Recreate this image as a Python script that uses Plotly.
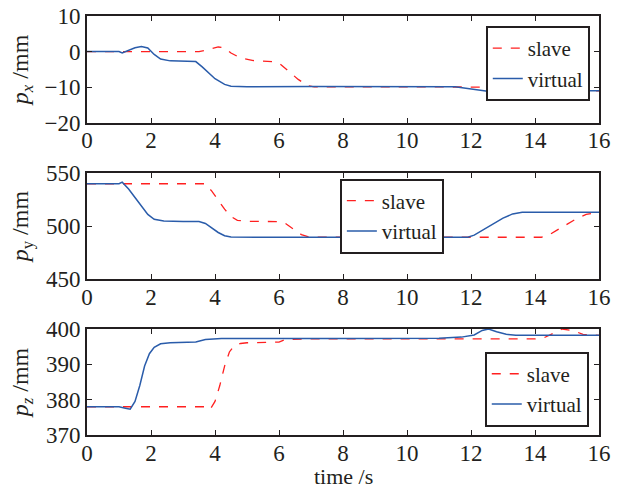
import plotly.graph_objects as go

# ---- data ----
# p_x
px_virtual_t = [0, 1.0, 1.1, 1.3, 1.5, 1.7, 1.9, 2.1, 2.3, 2.6, 3.0, 3.4, 3.6, 3.8, 4.0, 4.3, 4.5, 5.0, 7.0, 11.5, 12.0, 12.4, 12.8, 13.1, 13.4, 16.0]
px_virtual_v = [0, 0, -0.4, 0.3, 1.1, 1.4, 1.0, -0.8, -2.1, -2.6, -2.8, -2.8, -4.3, -6.0, -7.6, -9.2, -9.7, -9.9, -9.8, -9.9, -10.5, -11.0, -11.5, -11.3, -10.9, -11.0]
px_slave_t = [0, 3.5, 3.8, 4.1, 4.3, 4.5, 4.8, 5.2, 5.8, 6.0, 6.3, 6.6, 6.9, 7.1, 10.0, 14.0, 14.3, 14.6, 15.0, 15.4, 16.0]
px_slave_v = [0, 0, 0.6, 1.3, 1.1, -0.4, -1.8, -2.5, -2.8, -3.2, -5.5, -7.8, -9.6, -9.9, -9.9, -10.0, -10.5, -11.2, -11.6, -11.1, -11.0]

# p_y
py_virtual_t = [0, 1.0, 1.1, 1.3, 1.5, 1.7, 1.9, 2.1, 2.4, 3.0, 3.5, 3.7, 3.9, 4.1, 4.3, 4.5, 6.0, 11.9, 12.1, 12.4, 12.7, 13.0, 13.3, 13.6, 16.0]
py_virtual_v = [540, 540, 541.5, 535, 527, 519, 511, 506.5, 504.8, 504.3, 504.3, 502.5, 498, 494, 491, 489.7, 489.5, 489.5, 491.5, 497, 502.5, 507.5, 511.5, 513, 513]
py_slave_t = [0, 3.7, 3.9, 4.1, 4.3, 4.5, 4.7, 5.0, 6.0, 6.2, 6.5, 6.7, 6.9, 7.2, 14.2, 14.4, 14.7, 15.0, 15.3, 15.6, 15.9, 16.0]
py_slave_v = [540, 540, 533, 524, 516, 509, 505.5, 504.5, 504.3, 502.5, 496, 492, 490, 489.5, 489.5, 491, 496.5, 502, 507, 511, 513, 513]

# p_z
pz_virtual_t = [0, 1.0, 1.2, 1.35, 1.5, 1.65, 1.8, 1.95, 2.1, 2.3, 2.6, 3.0, 3.4, 3.7, 4.2, 8.0, 11.0, 11.7, 12.1, 12.35, 12.55, 12.8, 13.1, 13.4, 16.0]
pz_virtual_v = [378, 378, 377.6, 377.3, 379.5, 384, 389.5, 393, 394.8, 395.8, 396.1, 396.2, 396.3, 397.0, 397.3, 397.3, 397.4, 397.7, 398.3, 399.6, 400.0, 399.2, 398.5, 398.2, 398.2]
pz_slave_t = [0, 3.75, 3.85, 4.0, 4.15, 4.3, 4.45, 4.6, 4.8, 5.0, 6.0, 6.2, 7.0, 14.0, 14.3, 14.6, 14.85, 15.2, 15.5, 16.0]
pz_slave_v = [378, 378, 377.3, 379.5, 384, 389.5, 393.5, 395.3, 395.9, 396.1, 396.3, 397.0, 397.2, 397.2, 397.6, 398.8, 400.0, 399.5, 398.5, 398.2]

y_titles = ["<i>p</i><sub><i>x</i></sub> /mm", "<i>p</i><sub>y</sub> /mm", "<i>p</i><sub><i>z</i></sub> /mm"]
y_ranges = [[-20, 10], [450, 550], [370, 400]]
y_ticks = [[-20, -10, 0, 10], [450, 500, 550], [370, 380, 390, 400]]
y_ticktext = [["\u221220", "\u221210", "0", "10"], ["450", "500", "550"], ["370", "380", "390", "400"]]
x_ticks = [0, 2, 4, 6, 8, 10, 12, 14, 16]
x_title = "time /s"

RED = "#ff2020"
BLUE = "#2a5caa"
INK = "#231f20"
FONT = "Liberation Serif"

fig = go.Figure()

series = [
    (px_slave_t, px_slave_v, px_virtual_t, px_virtual_v),
    (py_slave_t, py_slave_v, py_virtual_t, py_virtual_v),
    (pz_slave_t, pz_slave_v, pz_virtual_t, pz_virtual_v),
]
domains = [[0.745, 1.0], [0.372, 0.625], [0.0, 0.253]]
legend_xy = [(0.982, 0.976, "top"), (0.697, 0.612, "top"), (0.98, 0.02, "bottom")]

for i, (st, sv, vt, vv) in enumerate(series):
    n = "" if i == 0 else str(i + 1)
    lg = "legend" if i == 0 else f"legend{i+1}"
    fig.add_trace(go.Scatter(x=st, y=sv, mode="lines", name="slave",
                             line=dict(color=RED, width=1.3, dash="dash"),
                             xaxis="x" + n, yaxis="y" + n, legend=lg))
    fig.add_trace(go.Scatter(x=vt, y=vv, mode="lines", name="virtual",
                             line=dict(color=BLUE, width=1.5),
                             xaxis="x" + n, yaxis="y" + n, legend=lg))

layout = dict(
    template="none",
    width=622, height=490,
    margin=dict(l=87, r=23, t=16, b=55, autoexpand=False),
    paper_bgcolor="white", plot_bgcolor="white",
    font=dict(family=FONT, size=23, color=INK),
    showlegend=True,
)

axis_common = dict(
    showline=True, linecolor=INK, linewidth=2, mirror="allticks",
    ticks="inside", ticklen=5, tickwidth=1.2, tickcolor=INK,
    showgrid=False, zeroline=False, automargin=False,
    tickfont=dict(family=FONT, size=23, color=INK),
)

for i in range(3):
    n = "" if i == 0 else str(i + 1)
    xa = dict(axis_common, range=[0, 16], tickvals=x_ticks, anchor="y" + n, domain=[0, 1],
              ticklabelstandoff=-4)
    ya = dict(axis_common, range=y_ranges[i], tickvals=y_ticks[i], ticktext=y_ticktext[i],
              anchor="x" + n, domain=domains[i],
              title=dict(text=y_titles[i], font=dict(family=FONT, size=24, color=INK)))
    layout["xaxis" + n] = xa
    layout["yaxis" + n] = ya
    lg = "legend" if i == 0 else f"legend{i+1}"
    lx, ly, yanc = legend_xy[i]
    layout[lg] = dict(
        x=lx, y=ly, xanchor="right", yanchor=yanc,
        xref="paper", yref="paper",
        bgcolor="white", bordercolor=INK, borderwidth=2,
        font=dict(family=FONT, size=21, color=INK),
        tracegroupgap=0, itemwidth=30,
    )

layout["annotations"] = [dict(text=x_title, x=0.5, y=-0.099, xref="paper", yref="paper",
                              xanchor="center", yanchor="middle", showarrow=False,
                              font=dict(family=FONT, size=22, color=INK))]

fig.update_layout(**layout)
fig.write_html("out.html", config={"displayModeBar": False},
               post_script="document.body.style.margin='0';document.body.style.overflow='hidden';")
